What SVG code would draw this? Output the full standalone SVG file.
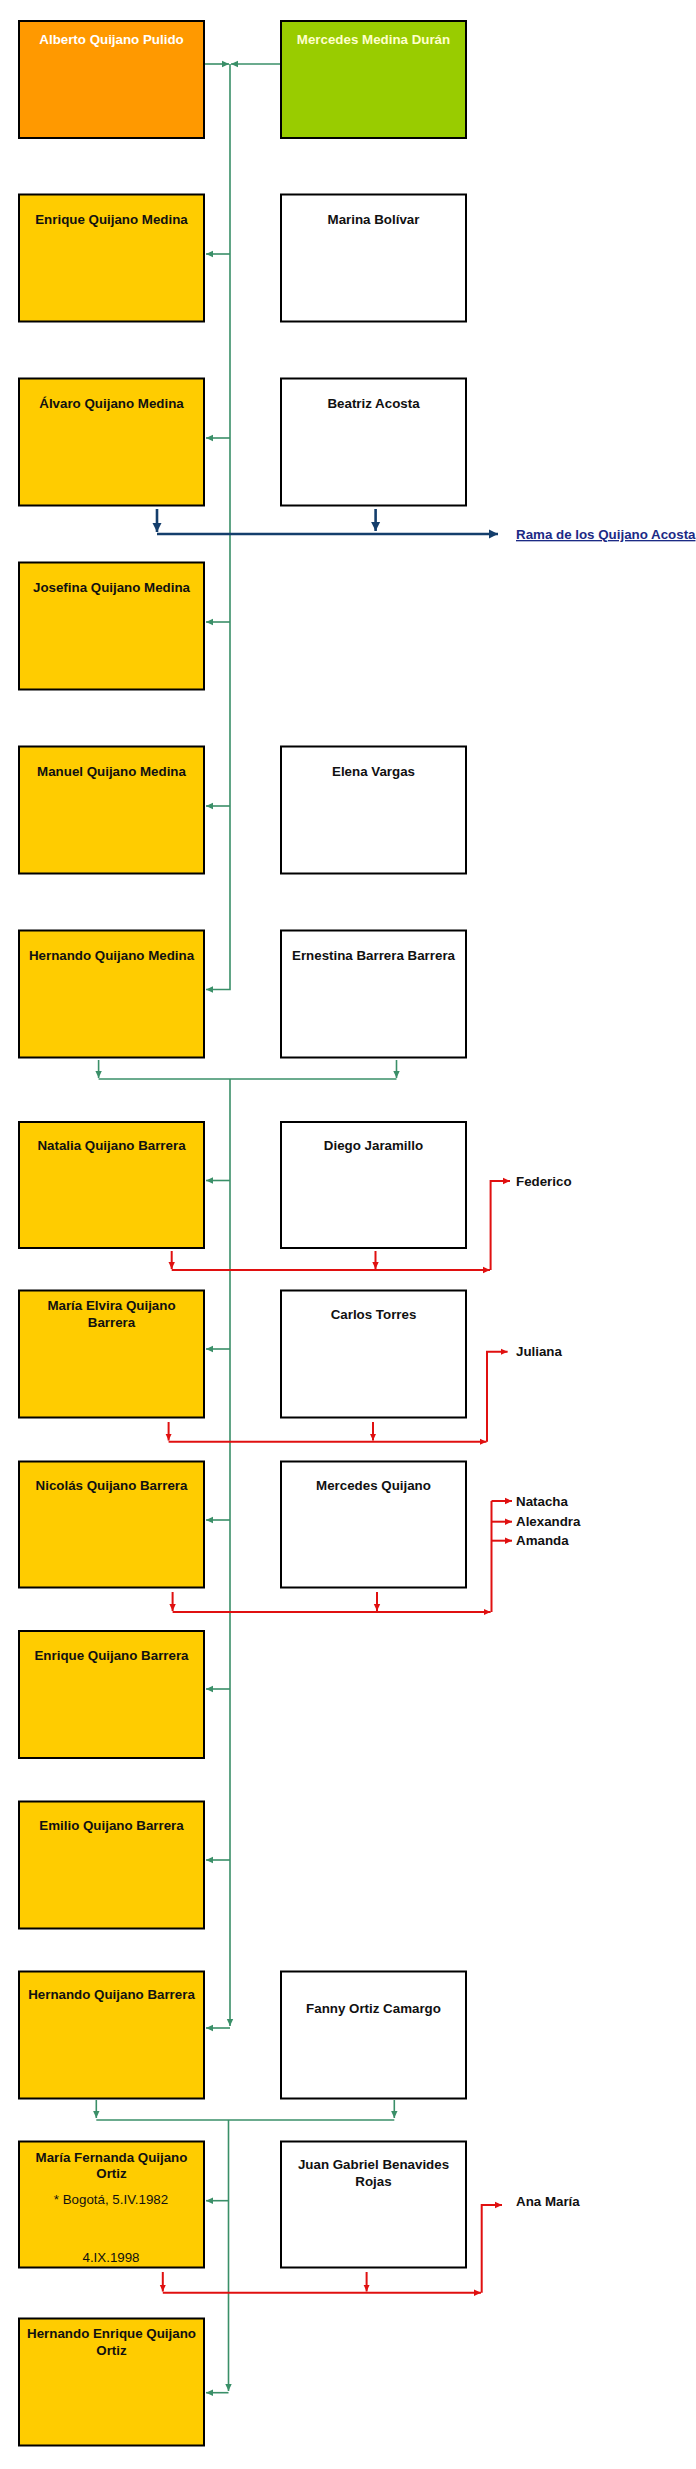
<svg xmlns="http://www.w3.org/2000/svg" width="696" height="2469" viewBox="0 0 696 2469">
<style>
.bx{stroke:#000;stroke-width:2}
.y{fill:#ffcc00}
.w{fill:#ffffff}
.t{font-family:"Liberation Sans",Arial,sans-serif;font-size:13.33px;font-weight:bold;text-anchor:middle;fill:#111}
.rg{font-weight:normal}
.k{font-family:"Liberation Sans",Arial,sans-serif;font-size:13.33px;font-weight:bold;fill:#111}
.g{fill:none;stroke:#3a8f68;stroke-width:1.6}
.gm{marker-end:url(#ag)}
.r{fill:none;stroke:#e01010;stroke-width:2}
.rm{marker-end:url(#ar)}
.b{fill:none;stroke:#143e6c;stroke-width:2.6}
.bm{marker-end:url(#ab)}
</style>
<defs>
<marker id="ag" markerUnits="userSpaceOnUse" markerWidth="8" markerHeight="8" refX="7" refY="4" orient="auto"><path d="M0,0.8 L7,4 L0,7.2 z" fill="#3a8f68"/></marker>
<marker id="ar" markerUnits="userSpaceOnUse" markerWidth="8" markerHeight="8" refX="7" refY="4" orient="auto"><path d="M0,0.8 L7,4 L0,7.2 z" fill="#e01010"/></marker>
<marker id="ab" markerUnits="userSpaceOnUse" markerWidth="10" markerHeight="10" refX="9" refY="5" orient="auto"><path d="M0,0.5 L9,5 L0,9.5 z" fill="#143e6c"/></marker>
</defs>
<rect width="696" height="2469" fill="#fff"/>

<g id="connectors">
<!-- generation 1 -->
<path class="g gm" d="M205,64 H229"/>
<path class="g gm" d="M280,64 H231"/>
<path class="g gm" d="M230,64 V989.5 H206"/>
<path class="g gm" d="M230,254 H206"/>
<path class="g gm" d="M230,438 H206"/>
<path class="g gm" d="M230,622 H206"/>
<path class="g gm" d="M230,806 H206"/>
<!-- Alvaro branch -->
<path class="b bm" d="M157,509 V532"/>
<path class="b bm" d="M375.6,509 V531"/>
<path class="b bm" d="M157,534 H498"/>
<!-- generation 2 -->
<path class="g gm" d="M98.6,1060 V1078"/>
<path class="g gm" d="M396.5,1060 V1078"/>
<path class="g" d="M98.6,1079 H396.5"/>
<path class="g gm" d="M230,1079 V2026"/>
<path class="g gm" d="M230,2028 H206"/>
<path class="g gm" d="M230,1180.5 H206"/>
<path class="g gm" d="M230,1349 H206"/>
<path class="g gm" d="M230,1520 H206"/>
<path class="g gm" d="M230,1689 H206"/>
<path class="g gm" d="M230,1860 H206"/>
<!-- Natalia family -->
<path class="r rm" d="M171.7,1251 V1269"/>
<path class="r rm" d="M375.5,1251 V1269"/>
<path class="r rm" d="M171.7,1270 H490"/>
<path class="r rm" d="M490.6,1270 V1181 H510"/>
<!-- Maria Elvira family -->
<path class="r rm" d="M168.6,1422 V1440.5"/>
<path class="r rm" d="M373,1422 V1440.5"/>
<path class="r rm" d="M168.6,1441.7 H486.5"/>
<path class="r rm" d="M487,1441.7 V1351.7 H507.6"/>
<!-- Nicolas family -->
<path class="r rm" d="M172.6,1592 V1611"/>
<path class="r rm" d="M377,1592 V1611"/>
<path class="r rm" d="M172.6,1612 H490.6"/>
<path class="r" d="M491.5,1612 V1501"/>
<path class="r rm" d="M491.5,1501 H512"/>
<path class="r rm" d="M491.5,1521.7 H512"/>
<path class="r rm" d="M491.5,1540.7 H512"/>
<!-- generation 3 -->
<path class="g gm" d="M96.3,2100 V2118"/>
<path class="g gm" d="M394.3,2100 V2118"/>
<path class="g" d="M96.3,2120 H394.3"/>
<path class="g gm" d="M228.5,2120 V2391"/>
<path class="g gm" d="M228.5,2392.7 H206"/>
<path class="g gm" d="M228.5,2200.7 H206"/>
<!-- Maria Fernanda family -->
<path class="r rm" d="M162.8,2272 V2291.5"/>
<path class="r rm" d="M366.6,2272 V2291.5"/>
<path class="r rm" d="M162.8,2292.7 H481"/>
<path class="r rm" d="M481.7,2292.7 V2205 H502"/>
</g>

<g id="alberto"><rect class="bx" x="19" y="21" width="185" height="117" fill="#ff9900"/><text class="t" x="111.5" y="44" fill="#ffffff" style="fill:#fff">Alberto Quijano Pulido</text></g>
<g id="mercedes-medina"><rect class="bx" x="281" y="21" width="185" height="117" fill="#99cc00"/><text class="t" x="373.5" y="44" style="fill:#ffffcc">Mercedes Medina Durán</text></g>

<g id="enrique-qm"><rect class="bx y" x="19" y="194.5" width="185" height="127"/><text class="t" x="111.5" y="224">Enrique Quijano Medina</text></g>
<g id="marina"><rect class="bx w" x="281" y="194.5" width="185" height="127"/><text class="t" x="373.5" y="224">Marina Bolívar</text></g>

<g id="alvaro"><rect class="bx y" x="19" y="378.5" width="185" height="127"/><text class="t" x="111.5" y="407.5">Álvaro Quijano Medina</text></g>
<g id="beatriz"><rect class="bx w" x="281" y="378.5" width="185" height="127"/><text class="t" x="373.5" y="407.5">Beatriz Acosta</text></g>
<g id="rama"><text class="k" x="516" y="539" style="fill:#1c2a85;text-decoration:underline">Rama de los Quijano Acosta</text></g>

<g id="josefina"><rect class="bx y" x="19" y="562.5" width="185" height="127"/><text class="t" x="111.5" y="591.5">Josefina Quijano Medina</text></g>

<g id="manuel"><rect class="bx y" x="19" y="746.5" width="185" height="127"/><text class="t" x="111.5" y="775.5">Manuel Quijano Medina</text></g>
<g id="elena"><rect class="bx w" x="281" y="746.5" width="185" height="127"/><text class="t" x="373.5" y="775.5">Elena Vargas</text></g>

<g id="hernando-qm"><rect class="bx y" x="19" y="930.5" width="185" height="127"/><text class="t" x="111.5" y="959.5">Hernando Quijano Medina</text></g>
<g id="ernestina"><rect class="bx w" x="281" y="930.5" width="185" height="127"/><text class="t" x="373.5" y="959.5">Ernestina Barrera Barrera</text></g>

<g id="natalia"><rect class="bx y" x="19" y="1122" width="185" height="126"/><text class="t" x="111.5" y="1150">Natalia Quijano Barrera</text></g>
<g id="diego"><rect class="bx w" x="281" y="1122" width="185" height="126"/><text class="t" x="373.5" y="1150">Diego Jaramillo</text></g>
<g id="federico"><text class="k" x="516" y="1186">Federico</text></g>

<g id="maria-elvira"><rect class="bx y" x="19" y="1290.5" width="185" height="127"/><text class="t" x="111.5" y="1310">María Elvira Quijano</text><text class="t" x="111.5" y="1327">Barrera</text></g>
<g id="carlos"><rect class="bx w" x="281" y="1290.5" width="185" height="127"/><text class="t" x="373.5" y="1319">Carlos Torres</text></g>
<g id="juliana"><text class="k" x="516" y="1356">Juliana</text></g>

<g id="nicolas"><rect class="bx y" x="19" y="1461.5" width="185" height="126"/><text class="t" x="111.5" y="1490">Nicolás Quijano Barrera</text></g>
<g id="mercedes-quijano"><rect class="bx w" x="281" y="1461.5" width="185" height="126"/><text class="t" x="373.5" y="1490">Mercedes Quijano</text></g>
<g id="natacha"><text class="k" x="516" y="1506">Natacha</text></g>
<g id="alexandra"><text class="k" x="516" y="1526">Alexandra</text></g>
<g id="amanda"><text class="k" x="516" y="1545">Amanda</text></g>

<g id="enrique-qb"><rect class="bx y" x="19" y="1631" width="185" height="127"/><text class="t" x="111.5" y="1659.5">Enrique Quijano Barrera</text></g>

<g id="emilio"><rect class="bx y" x="19" y="1801.5" width="185" height="127"/><text class="t" x="111.5" y="1830">Emilio Quijano Barrera</text></g>

<g id="hernando-qb"><rect class="bx y" x="19" y="1971.5" width="185" height="127"/><text class="t" x="111.5" y="1999">Hernando Quijano Barrera</text></g>
<g id="fanny"><rect class="bx w" x="281" y="1971.5" width="185" height="127"/><text class="t" x="373.5" y="2012.5">Fanny Ortiz Camargo</text></g>

<g id="maria-fernanda"><rect class="bx y" x="19" y="2141.5" width="185" height="126"/><text class="t" x="111.5" y="2161.7">María Fernanda Quijano</text><text class="t" x="111.5" y="2178.3">Ortiz</text><text class="t rg" x="111" y="2204.3">* Bogotá, 5.IV.1982</text><text class="t rg" x="111" y="2261.7">4.IX.1998</text></g>
<g id="juan-gabriel"><rect class="bx w" x="281" y="2141.5" width="185" height="126"/><text class="t" x="373.5" y="2169.3">Juan Gabriel Benavides</text><text class="t" x="373.5" y="2186">Rojas</text></g>
<g id="ana-maria"><text class="k" x="516" y="2206">Ana María</text></g>

<g id="hernando-enrique"><rect class="bx y" x="19" y="2318.5" width="185" height="127"/><text class="t" x="111.5" y="2338.3">Hernando Enrique Quijano</text><text class="t" x="111.5" y="2355">Ortiz</text></g>
</svg>
